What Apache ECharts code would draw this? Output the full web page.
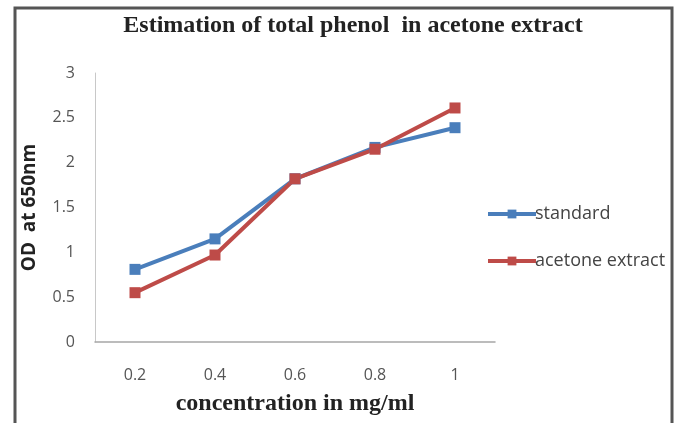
<!DOCTYPE html>
<html>
<head>
<meta charset="utf-8">
<style>
html,body{margin:0;padding:0;background:#fff;}
#chart{width:681px;height:423px;}
</style>
<script src="https://cdn.jsdelivr.net/npm/echarts@6/dist/echarts.min.js"></script>
</head>
<body>
<div id="chart"></div>
<script>
const categories = ['0.2', '0.4', '0.6', '0.8', '1'];
const standardValues = [0.81, 1.15, 1.82, 2.17, 2.39];
const acetoneValues = [0.55, 0.97, 1.82, 2.15, 2.61];
const yTicks = [0, 0.5, 1, 1.5, 2, 2.5, 3];

const chart = echarts.init(document.getElementById('chart'));
chart.setOption({
  animation: false,
  backgroundColor: '#fff',
  title: {
    text: 'Estimation of total phenol  in acetone extract',
    left: 348, top: 9, textAlign: 'center',
    textStyle: { fontFamily: 'Liberation Serif', fontWeight: 'bold', fontSize: 24, color: '#222' }
  },
  graphic: [{
    type: 'polyline',
    shape: { points: [[15, 423], [15, 8], [672, 8], [672, 423]] },
    style: { stroke: '#555', lineWidth: 3, fill: null }
  }],
  legend: {
    orient: 'vertical', left: 481, top: 200, itemGap: 29,
    itemWidth: 48, itemHeight: 11,
    lineStyle: { width: 4 },
    textStyle: { fontFamily: 'Open Sans', fontSize: 18, color: '#444', padding: [0, 0, 0, -6] },
    data: ['standard', 'acetone extract']
  },
  grid: { left: 95, right: 186, top: 73, bottom: 81, containLabel: false },
  xAxis: {
    type: 'category', data: categories, boundaryGap: true,
    name: 'concentration in mg/ml', nameLocation: 'middle', nameGap: 50,
    nameTextStyle: { fontFamily: 'Liberation Serif', fontWeight: 'bold', fontSize: 24, color: '#222' },
    axisLine: { lineStyle: { color: '#a6a6a6', width: 1.5 } },
    axisTick: { show: false },
    axisLabel: { margin: 25, fontFamily: 'Open Sans', fontSize: 16, color: '#555' }
  },
  yAxis: {
    type: 'value', min: 0, max: 3, interval: 0.5,
    name: 'OD  at 650nm', nameLocation: 'middle', nameGap: 56,
    nameTextStyle: { fontFamily: 'Open Sans', fontWeight: 'bold', fontSize: 19, color: '#222' },
    axisLine: { show: true, lineStyle: { color: '#c8c8c8', width: 1 } },
    axisTick: { show: false },
    splitLine: { show: false },
    axisLabel: {
      margin: 20, fontFamily: 'Open Sans', fontSize: 16, color: '#555',
      formatter: v => (yTicks.includes(v) ? String(v) : '')
    }
  },
  series: [
    {
      name: 'standard', type: 'line', data: standardValues,
      symbol: 'rect', symbolSize: 11,
      lineStyle: { color: '#4a7ebb', width: 4 },
      itemStyle: { color: '#4a7ebb' }
    },
    {
      name: 'acetone extract', type: 'line', data: acetoneValues,
      symbol: 'rect', symbolSize: 11,
      lineStyle: { color: '#be4b48', width: 4 },
      itemStyle: { color: '#be4b48' }
    }
  ]
});
</script>
</body>
</html>
